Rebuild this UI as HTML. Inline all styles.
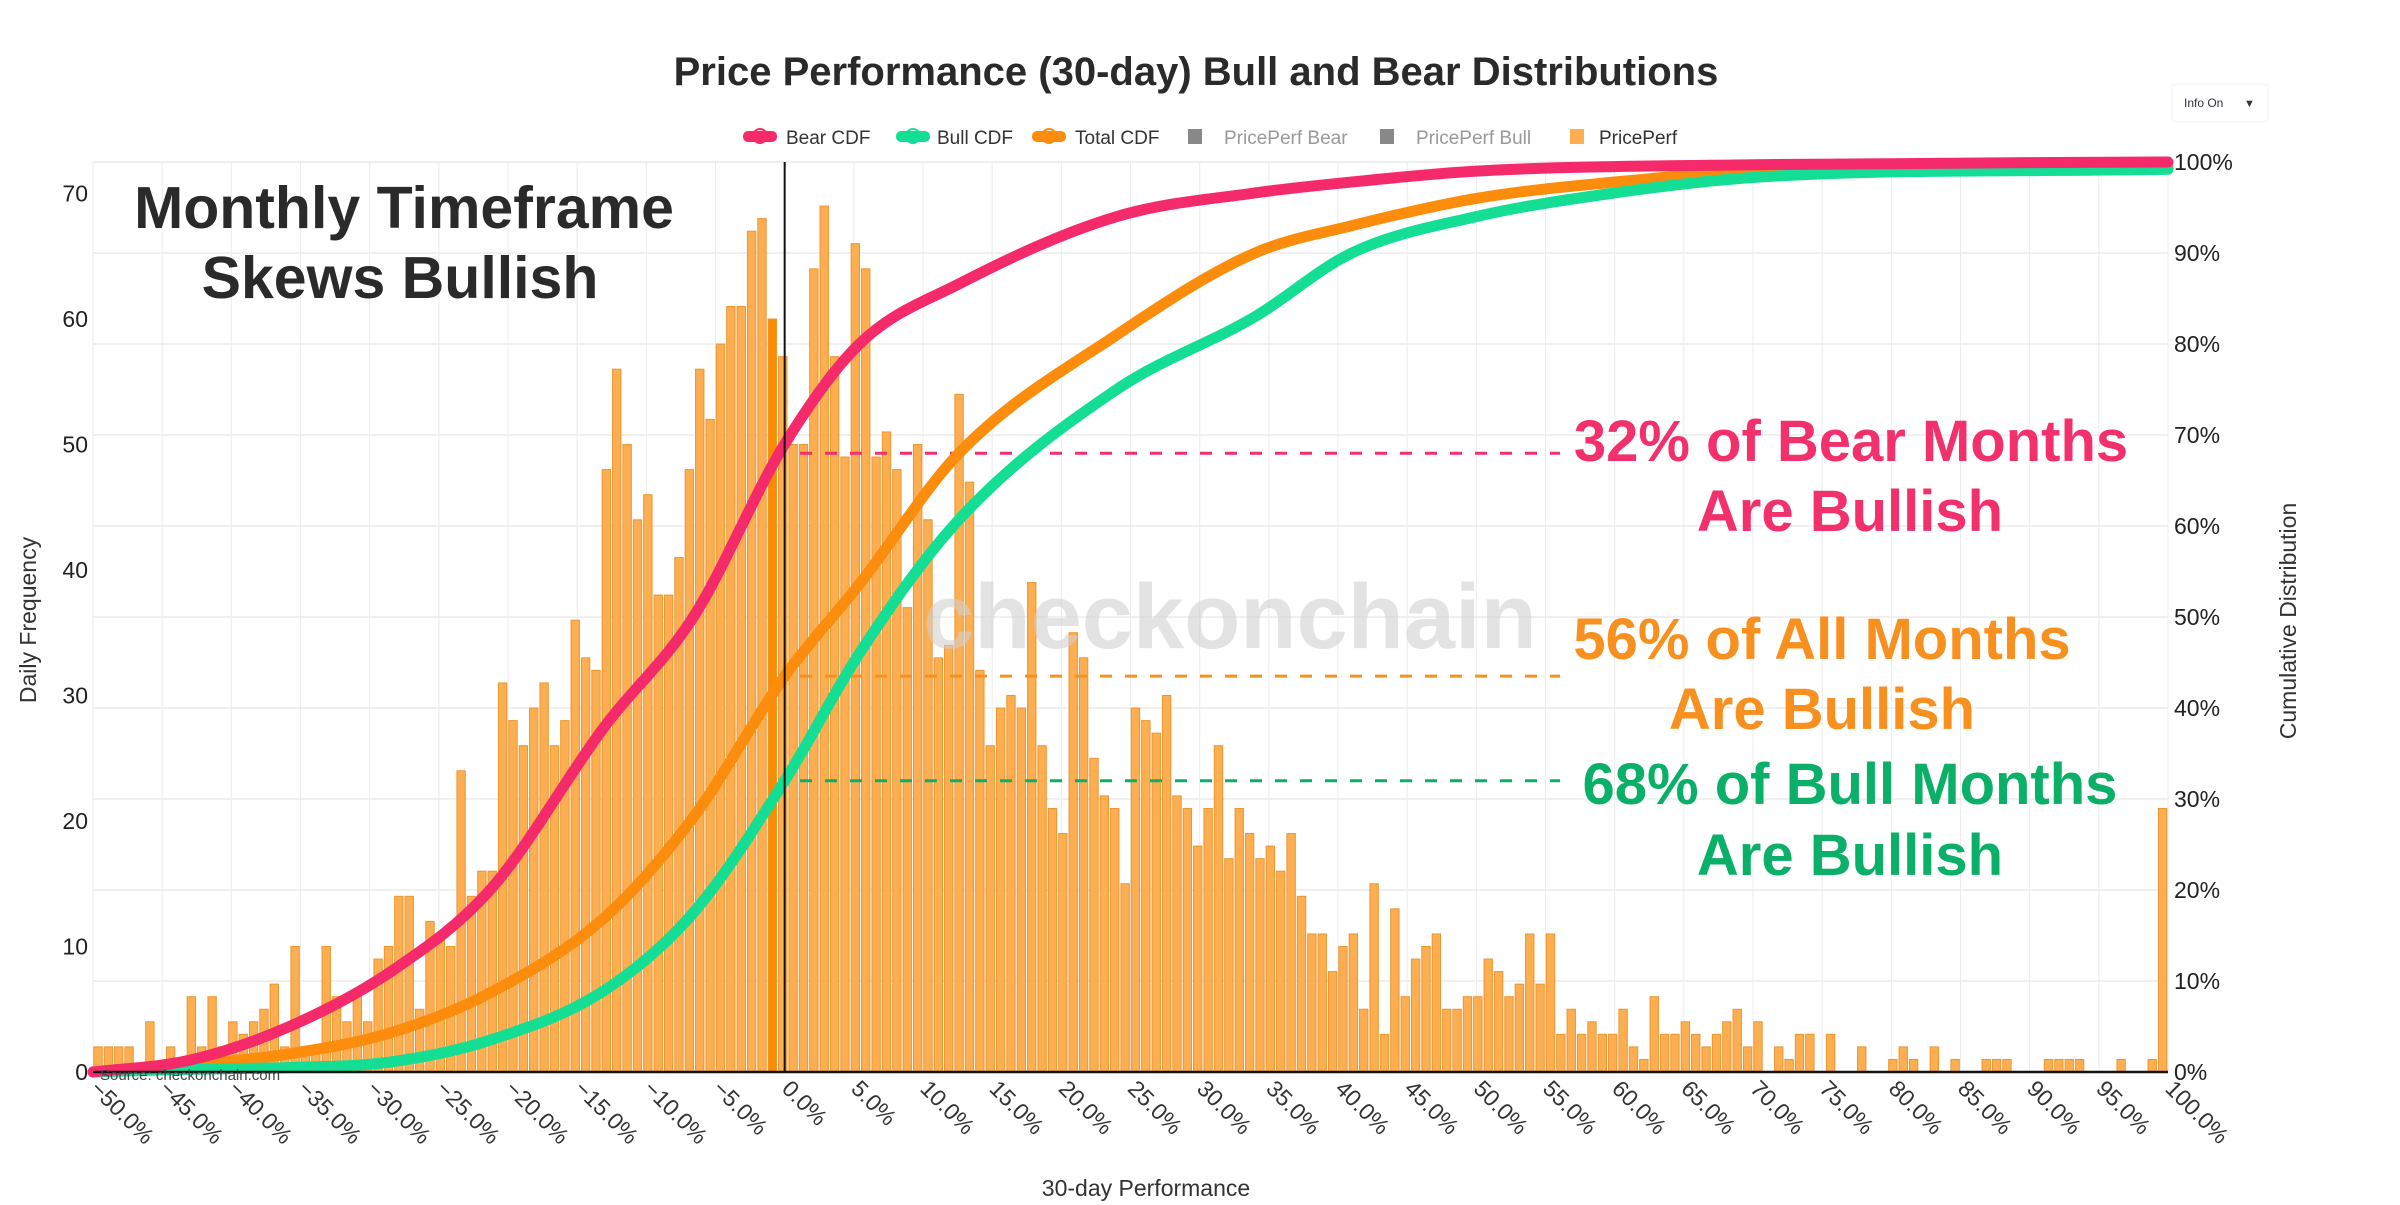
<!DOCTYPE html>
<html><head><meta charset="utf-8"><style>
html,body{margin:0;padding:0;background:#fff;}
svg{display:block;font-family:"Liberation Sans",sans-serif;}
</style></head><body>
<svg id="chart" width="2400" height="1205" viewBox="0 0 2400 1205" xmlns="http://www.w3.org/2000/svg">
<text x="1196" y="85" text-anchor="middle" font-size="40" font-weight="bold" fill="#2a2a2a">Price Performance (30-day) Bull and Bear Distributions</text>
<g id="grid"></g>
<g id="bars"></g>
<text x="1230" y="648" text-anchor="middle" font-size="92" font-weight="bold" fill="#d0d0d0" fill-opacity="0.6">checkonchain</text>
<g id="lines"></g>
<g id="axes"></g>
<g font-size="19" fill="#333">
 <g><rect x="743" y="131" width="34" height="11" rx="5" fill="#f52a6a"/><circle cx="760" cy="136" r="7" fill="none" stroke="#f52a6a" stroke-width="2"/><text x="786" y="144">Bear CDF</text></g>
 <g><rect x="896" y="131" width="34" height="11" rx="5" fill="#14de94"/><circle cx="913" cy="136" r="7" fill="none" stroke="#14de94" stroke-width="2"/><text x="937" y="144">Bull CDF</text></g>
 <g><rect x="1032" y="131" width="34" height="11" rx="5" fill="#fc8c0c"/><circle cx="1049" cy="136" r="7" fill="none" stroke="#fc8c0c" stroke-width="2"/><text x="1075" y="144">Total CDF</text></g>
 <g><rect x="1188" y="129" width="14" height="15" fill="#888"/><text x="1224" y="144" fill="#999">PricePerf Bear</text></g>
 <g><rect x="1380" y="129" width="14" height="15" fill="#888"/><text x="1416" y="144" fill="#999">PricePerf Bull</text></g>
 <g><rect x="1570" y="129" width="14" height="15" fill="#fcae50"/><text x="1599" y="144">PricePerf</text></g>
</g>
<g><rect x="2172" y="84" width="96" height="38" rx="4" fill="#fff" stroke="#f0f0f0"/><text x="2184" y="107" font-size="12" fill="#334">Info On</text><text x="2244" y="107" font-size="11" fill="#334">▼</text></g>
<g font-size="59" font-weight="bold" fill="#2a2a2a" text-anchor="middle">
 <text x="404" y="228">Monthly Timeframe</text><text x="400" y="298">Skews Bullish</text>
</g>
<g font-size="58" font-weight="bold" fill="#f2306c" text-anchor="middle"><text x="1851" y="461">32% of Bear Months</text><text x="1850" y="531">Are Bullish</text></g>
<g font-size="58" font-weight="bold" fill="#f7901e" text-anchor="middle"><text x="1822" y="659">56% of All Months</text><text x="1822" y="729">Are Bullish</text></g>
<g font-size="58" font-weight="bold" fill="#0aaf68" text-anchor="middle"><text x="1850" y="804">68% of Bull Months</text><text x="1850" y="875">Are Bullish</text></g>
<text x="100" y="1080" font-size="15" fill="#444">Source: checkonchain.com</text>
<text x="1146" y="1196" text-anchor="middle" font-size="23" fill="#333">30-day Performance</text>
<text transform="translate(36,620) rotate(-90)" text-anchor="middle" font-size="23" fill="#333">Daily Frequency</text>
<text transform="translate(2296,621) rotate(-90)" text-anchor="middle" font-size="23" fill="#333">Cumulative Distribution</text>
</svg>
<script>
const binStart = -50, binWidth = 0.75;
const counts = [2,2,2,2,0,4,0,2,0,6,
2,6,2,4,3,4,5,7,2,10,
2,2,10,6,4,6,4,9,10,14,
14,5,12,11,10,24,14,16,16,31,
28,26,29,31,26,28,36,33,32,
48,56,50,44,46,38,38,41,48,56,52,58,61,61,67,68,60,57,
50,50,64,69,57,49,66,64,49,51,48,37,50,44,33,34,54,47,32,26,29,30,29,39,26,21,19,35,33,25,22,21,15,
29,28,27,30,22,21,18,21,26,17,21,19,17,18,16,19,14,11,11,8,10,11,5,15,3,13,6,9,10,11,5,5,6,6,9,8,6,7,11,7,11,3,5,3,4,3,3,5,2,
1,6,3,3,4,3,2,3,4,5,2,4,0,2,1,3,3,0,3,0,0,2,0,0,1,2,1,0,2,0,1,0,0,1,1,1,0,0,0,1,1,1,1,0,0,0,1,0,0,1,21];
const cdfX = {
 bear:[-50,-43,-35.8,-28.5,-21.3,-13,-6.6,0,5.4,12.6,24,34,41,50,70,100],
 total:[-50,-43,-35.8,-28.5,-21.3,-13,-6.6,0,5.4,12.6,24,34,41,50,60,70,100],
 bull:[-50,-43,-35.8,-28.5,-21.3,-13,-6.6,0,5.4,12.6,24,34,41,50,60,70,100]};
const bearCdf = [0,1.3,5,11,20,38,50,69,80,86.6,94,96.6,97.8,99,99.7,100];
const totalCdf = [0,0.8,2,4.3,8.7,17,28,43.5,53.6,68,81,90,93,96,97.8,99,99.5];
const bullCdf = [0,0.3,0.5,1.1,3.5,9,17.5,32,46,60.7,75,83,90,94,96.6,98.3,99.2];
const xTicks = [-50,-45,-40,-35,-30,-25,-20,-15,-10,-5,0,5,10,15,20,25,30,35,40,45,50,55,60,65,70,75,80,85,90,95,100];
const leftTicks = [0,10,20,30,40,50,60,70];
const rightTicks = [0,10,20,30,40,50,60,70,80,90,100];
const guides = [{v:68,c:'#f2306c',n:'bear-guide-line'},{v:43.5,c:'#f7901e',n:'total-guide-line'},{v:32,c:'#0aaf68',n:'bull-guide-line'}];

const NS='http://www.w3.org/2000/svg';
const X0=93,X1=2168,Y0=1072;
const xs=v=>X0+(v+50)/150*(X1-X0);
const yl=v=>Y0-v*12.55;
const yr=v=>Y0-v*9.1;
function mk(tag,attrs,parent){const e=document.createElementNS(NS,tag);for(const k in attrs)e.setAttribute(k,attrs[k]);parent.appendChild(e);return e;}
const grid=document.getElementById('grid'),barsG=document.getElementById('bars'),lines=document.getElementById('lines'),axes=document.getElementById('axes');
xTicks.forEach(t=>{const l=mk('line',{x1:xs(t),x2:xs(t),y1:yr(100),y2:Y0,stroke:'#ececec','stroke-width':1},grid);

});
rightTicks.forEach(t=>{const l=mk('line',{x1:X0,x2:X1,y1:yr(t),y2:yr(t),stroke:'#ececec','stroke-width':1.5},grid);

});
const pw=(X1-X0)/counts.length;
counts.forEach((c,i)=>{if(!c)return;const x0=xs(binStart+i*binWidth);const r=mk('rect',{x:x0+0.8,y:yl(c),width:Math.max(pw-2,1),height:Y0-yl(c),fill:i===65?'#fb8c00':'#fcae50',stroke:'#ec9630','stroke-width':1},barsG);

});
function mono(xsA,ysA){const n=xsA.length,d=[],m=[];for(let i=0;i<n-1;i++)d.push((ysA[i+1]-ysA[i])/(xsA[i+1]-xsA[i]));
m[0]=d[0];m[n-1]=d[n-2];for(let i=1;i<n-1;i++)m[i]=d[i-1]*d[i]<=0?0:(d[i-1]+d[i])/2;
let p='M'+xs(xsA[0])+','+yr(ysA[0]);for(let i=0;i<n-1;i++){const h=xsA[i+1]-xsA[i];
p+=' C'+xs(xsA[i]+h/3)+','+yr(ysA[i]+m[i]*h/3)+' '+xs(xsA[i+1]-h/3)+','+yr(ysA[i+1]-m[i+1]*h/3)+' '+xs(xsA[i+1])+','+yr(ysA[i+1]);}return p;}
guides.forEach(g=>{const l=mk('line',{x1:800,x2:1560,y1:yr(g.v),y2:yr(g.v),stroke:g.c,'stroke-width':3,'stroke-dasharray':'12 13'},lines);

});
[[cdfX.total,totalCdf,'#fc8c0c','total-cdf-line'],[cdfX.bull,bullCdf,'#14de94','bull-cdf-line'],[cdfX.bear,bearCdf,'#f52a6a','bear-cdf-line']].forEach(s=>{
const p=mk('path',{d:mono(s[0],s[1]),fill:'none',stroke:s[2],'stroke-width':11,'stroke-linecap':'round'},lines);

});
let l=mk('line',{x1:xs(0),x2:xs(0),y1:yr(100),y2:Y0,stroke:'#111','stroke-width':2},axes);


l=mk('line',{x1:X0,x2:X1,y1:Y0,y2:Y0,stroke:'#111','stroke-width':2.5},axes);


xTicks.forEach(t=>{const tx=mk('text',{transform:'translate('+(xs(t)-4)+','+(Y0+18)+') rotate(45)','font-size':23,fill:'#333'},axes);
tx.textContent=(t<0?'\u2212'+(-t).toFixed(1):t.toFixed(1))+'%';

});
leftTicks.forEach(t=>{const tx=mk('text',{x:88,y:yl(t)+8,'text-anchor':'end','font-size':23,fill:'#222'},axes);
tx.textContent=t;

});
rightTicks.forEach(t=>{const tx=mk('text',{x:2174,y:yr(t)+8,'font-size':23,fill:'#222'},axes);
tx.textContent=t+'%';

});
</script>
</body></html>
